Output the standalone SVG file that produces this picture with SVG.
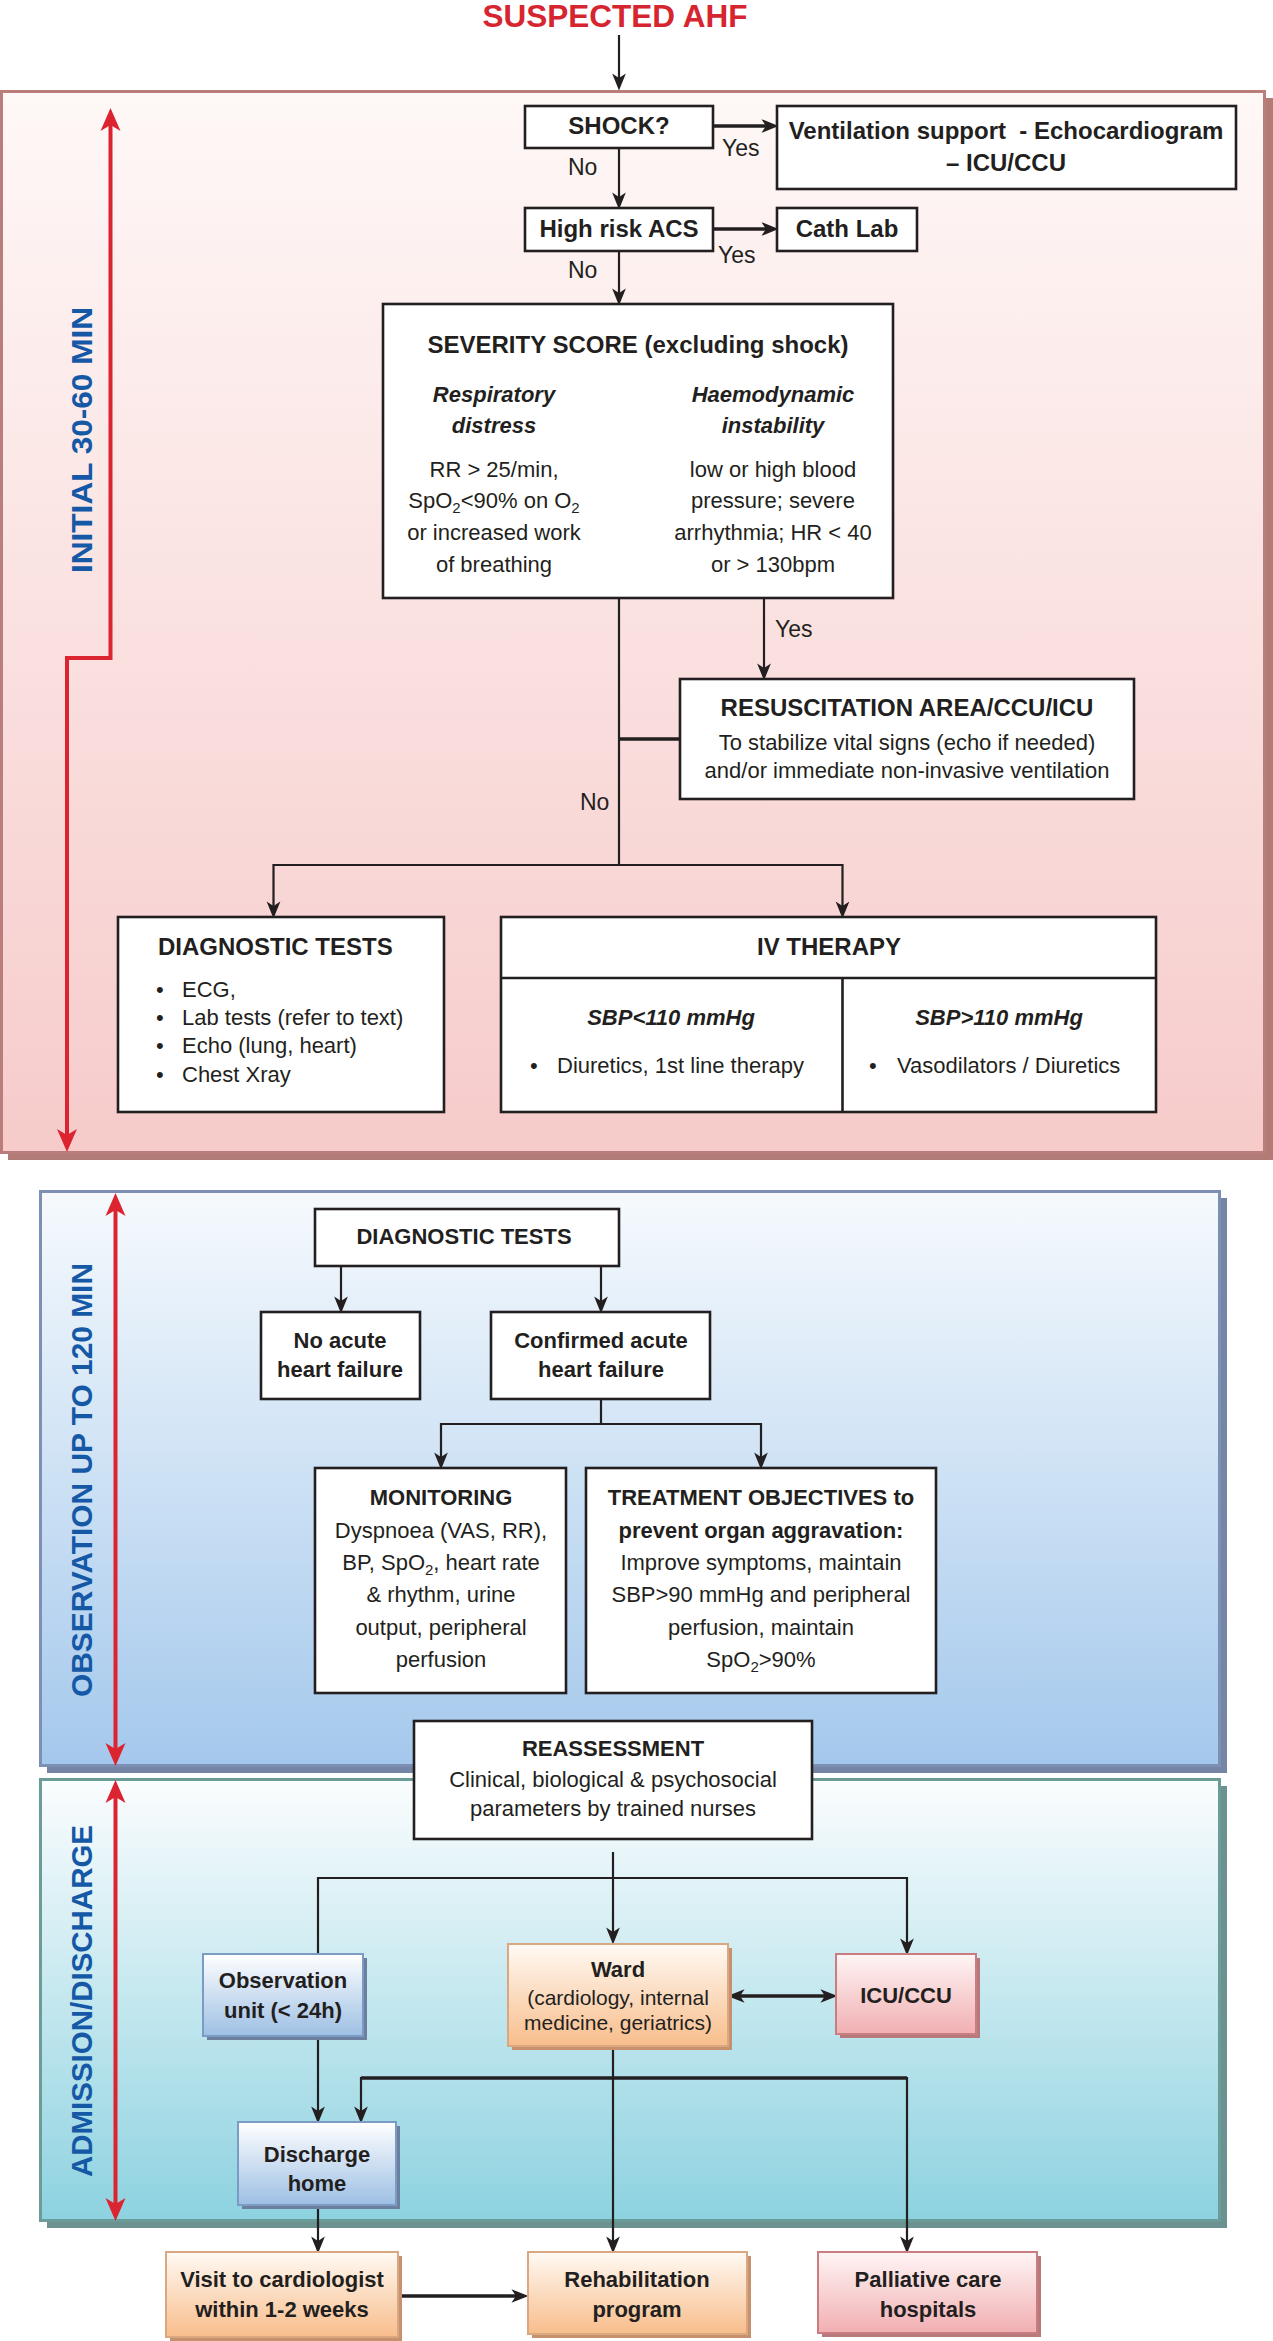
<svg xmlns="http://www.w3.org/2000/svg" width="1273" height="2341" viewBox="0 0 1273 2341">
<defs>
<style>
text{font-family:"Liberation Sans",Arial,sans-serif;fill:#231f20}
.t{font-weight:bold;font-size:31.5px;fill:#d7252f;text-anchor:middle}
.v{font-weight:bold;font-size:30px;fill:#1558a6;text-anchor:middle}
.b{font-weight:bold;font-size:24px;text-anchor:middle}
.b2{font-weight:bold;font-size:22px;text-anchor:middle}
.bi{font-weight:bold;font-style:italic;font-size:22px;text-anchor:middle}
.r{font-size:22px;text-anchor:middle}
.rl{font-size:22px}
.bl{font-weight:bold;font-size:24px}
.lab{font-size:23px}
.box{fill:#fff;stroke:#231f20;stroke-width:2.6}
.c{fill:none;stroke:#231f20;stroke-width:2.2}
.ck{fill:none;stroke:#231f20;stroke-width:3.5}
.red{fill:none;stroke:#dc2330;stroke-width:4}
.sub{font-size:15px}
</style>
<linearGradient id="gp1" x1="0" y1="0" x2="0" y2="1"><stop offset="0" stop-color="#fef8f7"/><stop offset="1" stop-color="#f6cbca"/></linearGradient>
<linearGradient id="gp2" x1="0" y1="0" x2="0" y2="1"><stop offset="0" stop-color="#f6fafd"/><stop offset="1" stop-color="#a4c8ec"/></linearGradient>
<linearGradient id="gp3" x1="0" y1="0" x2="0" y2="1"><stop offset="0" stop-color="#fbfdfe"/><stop offset="1" stop-color="#8dd2e0"/></linearGradient>
<linearGradient id="gb" x1="0" y1="0" x2="0" y2="1"><stop offset="0" stop-color="#ffffff"/><stop offset="1" stop-color="#9dbfe4"/></linearGradient>
<linearGradient id="go" x1="0" y1="0" x2="0" y2="1"><stop offset="0" stop-color="#fffaf4"/><stop offset="1" stop-color="#f8bd8b"/></linearGradient>
<linearGradient id="gk" x1="0" y1="0" x2="0" y2="1"><stop offset="0" stop-color="#fff5f5"/><stop offset="1" stop-color="#f1afb2"/></linearGradient>
<marker id="a" markerUnits="userSpaceOnUse" markerWidth="20" markerHeight="16" viewBox="0 -7 16 14" refX="4" refY="0" orient="auto-start-reverse"><path d="M0,-6 L15,0 L0,6 L4,0 z" fill="#231f20"/></marker>
<marker id="ra" markerUnits="userSpaceOnUse" markerWidth="24" markerHeight="22" viewBox="0 -11 24 22" refX="6" refY="0" orient="auto-start-reverse"><path d="M0,-10 L23,0 L0,10 L6,0 z" fill="#dc2330"/></marker>
</defs>

<text class="t" x="615" y="27">SUSPECTED AHF</text>

<g id="panel-initial">
<rect x="8" y="98" width="1265" height="1062" fill="#b27b76"/>
<rect x="1.5" y="91.5" width="1263" height="1061" fill="url(#gp1)" stroke="#b97e7b" stroke-width="3"/>
<path class="red" d="M110.5,125 V658 H67 V1135" marker-start="url(#ra)" marker-end="url(#ra)"/>
<text class="v" x="0" y="0" transform="translate(92,440) rotate(-90)" textLength="266" lengthAdjust="spacingAndGlyphs">INITIAL 30-60 MIN</text>
</g>

<g id="panel-observation">
<rect x="47" y="1198" width="1180" height="575" fill="#7585a5"/>
<rect x="40.5" y="1191.5" width="1179" height="574" fill="url(#gp2)" stroke="#7d8fb3" stroke-width="3"/>
<path class="red" d="M115.5,1210 V1749" marker-start="url(#ra)" marker-end="url(#ra)"/>
<text class="v" x="0" y="0" transform="translate(92,1480) rotate(-90)" textLength="434" lengthAdjust="spacingAndGlyphs">OBSERVATION UP TO 120 MIN</text>
</g>

<g id="panel-admission">
<rect x="47" y="1786" width="1180" height="442" fill="#6b9290"/>
<rect x="40.5" y="1779.5" width="1179" height="441" fill="url(#gp3)" stroke="#6b9c98" stroke-width="3"/>
<path class="red" d="M115.5,1797 V2204" marker-start="url(#ra)" marker-end="url(#ra)"/>
<text class="v" x="0" y="0" transform="translate(92,2001) rotate(-90)" textLength="352" lengthAdjust="spacingAndGlyphs">ADMISSION/DISCHARGE</text>
</g>

<g id="connectors">
<path class="c" d="M619,35 V78" marker-end="url(#a)"/>
<path class="ck" d="M713,126 H766" marker-end="url(#a)"/>
<path class="c" d="M619,148 V197" marker-end="url(#a)"/>
<path class="ck" d="M713,229 H766" marker-end="url(#a)"/>
<path class="c" d="M619,251 V293" marker-end="url(#a)"/>
<path class="c" d="M764,598 V668" marker-end="url(#a)"/>
<path class="c" d="M619,598 V865"/>
<path class="ck" d="M619,739 H680"/>
<path class="c" d="M273.5,906 V865 H842.5 V906" marker-start="url(#a)" marker-end="url(#a)"/>
<path class="c" d="M341,1266 V1301" marker-end="url(#a)"/>
<path class="c" d="M601,1266 V1301" marker-end="url(#a)"/>
<path class="c" d="M601,1399 V1424"/>
<path class="c" d="M441,1457 V1424 H761 V1457" marker-start="url(#a)" marker-end="url(#a)"/>
<path class="c" d="M613,1852 V1932" marker-end="url(#a)"/>
<path class="c" d="M318,1954 V1878 H907 V1943" marker-end="url(#a)"/>
<path class="c" d="M318,2036 V2111" marker-end="url(#a)"/>
<path class="c" d="M613,2046 V2241" marker-end="url(#a)"/>
<path class="c" d="M361,2111 V2078 H907 V2241" marker-start="url(#a)" marker-end="url(#a)"/>
<path class="ck" d="M361,2078 H907"/>
<path class="c" d="M318,2205 V2241" marker-end="url(#a)"/>
<path class="ck" d="M398,2296 H516" marker-end="url(#a)"/>
<path class="ck" d="M740,1996 H825" marker-start="url(#a)" marker-end="url(#a)"/>
<text class="lab" x="722" y="156">Yes</text>
<text class="lab" x="568" y="175">No</text>
<text class="lab" x="718" y="263">Yes</text>
<text class="lab" x="568" y="278">No</text>
<text class="lab" x="775" y="637">Yes</text>
<text class="lab" x="580" y="810">No</text>
</g>

<g id="shock">
<rect class="box" x="525" y="106" width="188" height="42"/>
<text class="b" x="619" y="134">SHOCK?</text>
</g>
<g id="ventilation">
<rect class="box" x="777" y="106" width="459" height="83"/>
<text class="b" x="1006" y="139" style="white-space:pre">Ventilation support  - Echocardiogram</text>
<text class="b" x="1006" y="171">– ICU/CCU</text>
</g>
<g id="high-risk-acs">
<rect class="box" x="525" y="208" width="188" height="43"/>
<text class="b" x="619" y="237">High risk ACS</text>
</g>
<g id="cath-lab">
<rect class="box" x="777" y="208" width="140" height="43"/>
<text class="b" x="847" y="237">Cath Lab</text>
</g>
<g id="severity">
<rect class="box" x="383" y="304" width="510" height="294"/>
<text class="b" x="638" y="353">SEVERITY SCORE (excluding shock)</text>
<text class="bi" x="494" y="402">Respiratory</text>
<text class="bi" x="494" y="433">distress</text>
<text class="bi" x="773" y="402">Haemodynamic</text>
<text class="bi" x="773" y="433">instability</text>
<text class="r" x="494" y="477">RR &gt; 25/min,</text>
<text class="r" x="494" y="508">SpO<tspan class="sub" dy="5">2</tspan><tspan dy="-5">&lt;90% on O</tspan><tspan class="sub" dy="5">2</tspan></text>
<text class="r" x="494" y="540">or increased work</text>
<text class="r" x="494" y="572">of breathing</text>
<text class="r" x="773" y="477">low or high blood</text>
<text class="r" x="773" y="508">pressure; severe</text>
<text class="r" x="773" y="540">arrhythmia; HR &lt; 40</text>
<text class="r" x="773" y="572">or &gt; 130bpm</text>
</g>
<g id="resuscitation">
<rect class="box" x="680" y="679" width="454" height="120"/>
<text class="b" x="907" y="716">RESUSCITATION AREA/CCU/ICU</text>
<text class="r" x="907" y="750">To stabilize vital signs (echo if needed)</text>
<text class="r" x="907" y="778">and/or immediate non-invasive ventilation</text>
</g>
<g id="diagnostic-tests-1">
<rect class="box" x="118" y="917" width="326" height="195"/>
<text class="bl" x="158" y="955">DIAGNOSTIC TESTS</text>
<text class="rl" x="156" y="997">•</text><text class="rl" x="182" y="997">ECG,</text>
<text class="rl" x="156" y="1025">•</text><text class="rl" x="182" y="1025">Lab tests (refer to text)</text>
<text class="rl" x="156" y="1053">•</text><text class="rl" x="182" y="1053">Echo (lung, heart)</text>
<text class="rl" x="156" y="1082">•</text><text class="rl" x="182" y="1082">Chest Xray</text>
</g>
<g id="iv-therapy">
<rect class="box" x="501" y="917" width="655" height="195"/>
<path class="c" d="M501,978 H1156 M842.5,978 V1112" style="stroke-width:2.6"/>
<text class="b" x="829" y="955">IV THERAPY</text>
<text class="bi" x="671" y="1025">SBP&lt;110 mmHg</text>
<text class="bi" x="999" y="1025">SBP&gt;110 mmHg</text>
<text class="rl" x="530" y="1073">•</text><text class="rl" x="557" y="1073">Diuretics, 1st line therapy</text>
<text class="rl" x="869" y="1073">•</text><text class="rl" x="897" y="1073">Vasodilators / Diuretics</text>
</g>

<g id="diagnostic-tests-2">
<rect class="box" x="315" y="1209" width="304" height="57"/>
<text class="b2" x="464" y="1244">DIAGNOSTIC TESTS</text>
</g>
<g id="no-acute-hf">
<rect class="box" x="261" y="1312" width="159" height="87"/>
<text class="b2" x="340" y="1348">No acute</text>
<text class="b2" x="340" y="1377">heart failure</text>
</g>
<g id="confirmed-hf">
<rect class="box" x="491" y="1312" width="219" height="87"/>
<text class="b2" x="601" y="1348">Confirmed acute</text>
<text class="b2" x="601" y="1377">heart failure</text>
</g>
<g id="monitoring">
<rect class="box" x="315" y="1468" width="251" height="225"/>
<text class="b2" x="441" y="1505">MONITORING</text>
<text class="r" x="441" y="1538">Dyspnoea (VAS, RR),</text>
<text class="r" x="441" y="1570">BP, SpO<tspan class="sub" dy="5">2</tspan><tspan dy="-5">, heart rate</tspan></text>
<text class="r" x="441" y="1602">&amp; rhythm, urine</text>
<text class="r" x="441" y="1635">output, peripheral</text>
<text class="r" x="441" y="1667">perfusion</text>
</g>
<g id="treatment-objectives">
<rect class="box" x="586" y="1468" width="350" height="225"/>
<text class="b2" x="761" y="1505">TREATMENT OBJECTIVES to</text>
<text class="b2" x="761" y="1538">prevent organ aggravation:</text>
<text class="r" x="761" y="1570">Improve symptoms, maintain</text>
<text class="r" x="761" y="1602">SBP&gt;90 mmHg and peripheral</text>
<text class="r" x="761" y="1635">perfusion, maintain</text>
<text class="r" x="761" y="1667">SpO<tspan class="sub" dy="5">2</tspan><tspan dy="-5">&gt;90%</tspan></text>
</g>
<g id="reassessment">
<rect class="box" x="414" y="1721" width="398" height="118"/>
<text class="b2" x="613" y="1756">REASSESSMENT</text>
<text class="r" x="613" y="1787">Clinical, biological &amp; psychosocial</text>
<text class="r" x="613" y="1816">parameters by trained nurses</text>
</g>

<g id="observation-unit">
<rect x="207" y="1958" width="160" height="82" fill="#6c7f9e"/>
<rect x="203" y="1954" width="160" height="82" fill="url(#gb)" stroke="#7b9bc4" stroke-width="2"/>
<text class="b2" x="283" y="1988">Observation</text>
<text class="b2" x="283" y="2018">unit (&lt; 24h)</text>
</g>
<g id="ward">
<rect x="512" y="1948" width="220" height="102" fill="#c8916d"/>
<rect x="508" y="1944" width="220" height="102" fill="url(#go)" stroke="#d9a781" stroke-width="2"/>
<text class="b2" x="618" y="1977">Ward</text>
<text class="r" x="618" y="2005" style="font-size:21px">(cardiology, internal</text>
<text class="r" x="618" y="2030" style="font-size:21px">medicine, geriatrics)</text>
</g>
<g id="icu-ccu">
<rect x="840" y="1958" width="140" height="80" fill="#b67a7d"/>
<rect x="836" y="1954" width="140" height="80" fill="url(#gk)" stroke="#c97d80" stroke-width="2"/>
<text class="b2" x="906" y="2003">ICU/CCU</text>
</g>
<g id="discharge-home">
<rect x="242" y="2126" width="158" height="83" fill="#6c7f9e"/>
<rect x="238" y="2122" width="158" height="83" fill="url(#gb)" stroke="#7b9bc4" stroke-width="2"/>
<text class="b2" x="317" y="2162">Discharge</text>
<text class="b2" x="317" y="2191">home</text>
</g>
<g id="visit-cardiologist">
<rect x="170" y="2256" width="232" height="85" fill="#c8916d"/>
<rect x="166" y="2252" width="232" height="85" fill="url(#go)" stroke="#d9a781" stroke-width="2"/>
<text class="b2" x="282" y="2287">Visit to cardiologist</text>
<text class="b2" x="282" y="2317">within 1-2 weeks</text>
</g>
<g id="rehabilitation">
<rect x="532" y="2256" width="219" height="82" fill="#c8916d"/>
<rect x="528" y="2252" width="219" height="82" fill="url(#go)" stroke="#d9a781" stroke-width="2"/>
<text class="b2" x="637" y="2287">Rehabilitation</text>
<text class="b2" x="637" y="2317">program</text>
</g>
<g id="palliative-care">
<rect x="822" y="2256" width="219" height="81" fill="#b67a7d"/>
<rect x="818" y="2252" width="219" height="81" fill="url(#gk)" stroke="#c97d80" stroke-width="2"/>
<text class="b2" x="928" y="2287">Palliative care</text>
<text class="b2" x="928" y="2317">hospitals</text>
</g>
</svg>
